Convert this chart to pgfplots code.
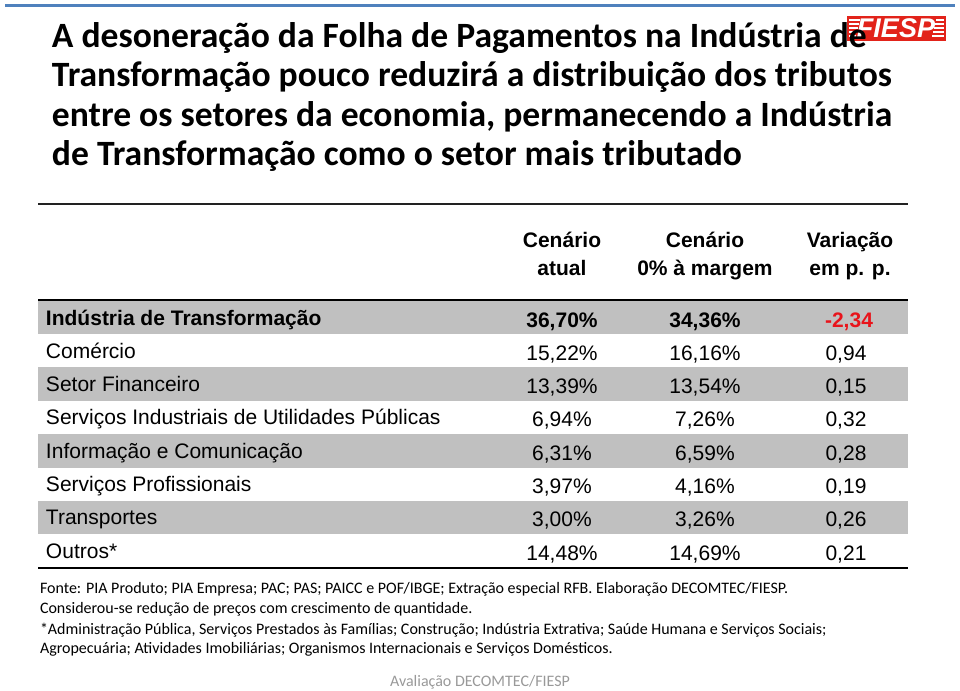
\documentclass[border=0pt]{standalone}
\usepackage{fontspec}
\setmainfont{Liberation Sans}
\newfontfamily\calibri{Carlito}
\usepackage{pgfplots}
\pgfplotsset{compat=1.18}
\newcommand{\semi}{;}
\definecolor{stripe}{HTML}{C0C0C0}
\definecolor{fiespred}{HTML}{E2231A}
\definecolor{topblue}{HTML}{4F81BD}
\definecolor{negred}{HTML}{E8141B}
\definecolor{rule}{HTML}{222222}
\pgfplotsset{
  txt/.style={draw=none, mark=none,
    nodes near coords={\pgfplotspointmeta},
    point meta=explicit symbolic,
    every node near coord/.append style={inner sep=0pt, outer sep=0pt, #1}},
}
\begin{document}
\begin{tikzpicture}
\begin{axis}[width=480pt, height=345.5pt, scale only axis,
  xmin=0, xmax=960, ymin=0, ymax=691, y dir=reverse,
  hide axis, clip=false]
% page extent
\addplot[draw=none, mark=none] coordinates {(0,0) (960,0) (960,691) (0,691)};
% top blue line
\addplot[topblue, line width=1.5pt] coordinates {(5,5) (955,5)};
% logo
\addplot[fill=fiespred, draw=none] coordinates {(847,16) (946,16) (946,41) (847,41)};
\addplot[white, line width=0.7pt, unbounded coords=jump] coordinates {
(849,20) (860,20) (849,nan) (849,24) (859,24) (849,nan) (849,28) (858,28) (849,nan)
(849,32) (857,32) (849,nan) (849,36) (856,36) (849,nan)
(936,20) (944,20) (936,nan) (935,24) (944,24) (935,nan) (934,28) (944,28) (934,nan)
(933,32) (944,32) (933,nan) (932,36) (944,36) (932,nan)};
\addplot[txt={anchor=center, text=white, font=\bfseries\itshape\fontsize{13.5}{16}\selectfont}] table[meta=t] {
x y t
896 28.5 FIESP
};
% title
\addplot[txt={anchor=base west, font=\calibri\bfseries\fontsize{17.8}{20}\selectfont}] table[meta=t] {
x y t
52 47.5 {A desoneração da Folha de Pagamentos na Indústria de}
52 86.8 {Transformação pouco reduzirá a distribuição dos tributos}
52 126.1 {entre os setores da economia, permanecendo a Indústria}
52 165.4 {de Transformação como o setor mais tributado}
};
% stripes
\addplot[fill=stripe, draw=none] coordinates {(38,300) (908,300) (908,334) (38,334)};
\addplot[fill=stripe, draw=none] coordinates {(38,367) (908,367) (908,401) (38,401)};
\addplot[fill=stripe, draw=none] coordinates {(38,434) (908,434) (908,468) (38,468)};
\addplot[fill=stripe, draw=none] coordinates {(38,501) (908,501) (908,534) (38,534)};
% rules
\addplot[rule, line width=1pt] coordinates {(38,204) (908,204)};
\addplot[black, line width=1pt] coordinates {(38,300) (908,300)};
\addplot[black, line width=1pt] coordinates {(38,568) (908,568)};
% header
\addplot[txt={anchor=base, font=\bfseries\fontsize{10.5}{12}\selectfont}] table[meta=t] {
x y t
562 247.5 {Cenário}
562 275.5 {atual}
705 247.5 {Cenário}
705 275.5 {0\% à margem}
850 247.5 {Variação}
850 275.5 {em p. p.}
};
% first row (bold)
\addplot[txt={anchor=base west, font=\bfseries\fontsize{10.5}{12}\selectfont}] table[meta=t] {
x y t
46 325 {Indústria de Transformação}
};
\addplot[txt={anchor=base, font=\bfseries\fontsize{10.5}{12}\selectfont}] table[meta=t] {
x y t
562 327 {36,70\%}
705 327 {34,36\%}
};
\addplot[txt={anchor=base, text=negred, font=\bfseries\fontsize{10.5}{12}\selectfont}] table[meta=t] {
x y t
849 327 {-2,34}
};
% other rows
\addplot[txt={anchor=base west, font=\fontsize{10.5}{12}\selectfont}] table[meta=t] {
x y t
46 358.3 {Comércio}
46 391.6 {Setor Financeiro}
46 424.9 {Serviços Industriais de Utilidades Públicas}
46 458.2 {Informação e Comunicação}
46 491.5 {Serviços Profissionais}
46 524.8 {Transportes}
46 558.1 {Outros*}
};
\addplot[txt={anchor=base, font=\fontsize{10.5}{12}\selectfont}] table[meta=t] {
x y t
562 360.3 {15,22\%}
705 360.3 {16,16\%}
846 360.3 {0,94}
562 393.6 {13,39\%}
705 393.6 {13,54\%}
846 393.6 {0,15}
562 426.9 {6,94\%}
705 426.9 {7,26\%}
846 426.9 {0,32}
562 460.2 {6,31\%}
705 460.2 {6,59\%}
846 460.2 {0,28}
562 493.5 {3,97\%}
705 493.5 {4,16\%}
846 493.5 {0,19}
562 526.8 {3,00\%}
705 526.8 {3,26\%}
846 526.8 {0,26}
562 560.1 {14,48\%}
705 560.1 {14,69\%}
846 560.1 {0,21}
};
% footnotes
\addplot[txt={anchor=base west, font=\calibri\fontsize{8}{10}\selectfont}] table[meta=t] {
x y t
40 593 {Fonte: PIA Produto\semi{} PIA Empresa\semi{} PAC\semi{} PAS\semi{} PAICC e POF/IBGE\semi{} Extração especial RFB. Elaboração DECOMTEC/FIESP.}
40 613.5 {Considerou-se redução de preços com crescimento de quantidade.}
40 634 {*Administração Pública, Serviços Prestados às Famílias\semi{} Construção\semi{} Indústria Extrativa\semi{} Saúde Humana e Serviços Sociais\semi}
40 653 {Agropecuária\semi{} Atividades Imobiliárias\semi{} Organismos Internacionais e Serviços Domésticos.}
};
\addplot[txt={anchor=base, text=black!40, font=\calibri\fontsize{8}{10}\selectfont}] table[meta=t] {
x y t
480 686 {Avaliação DECOMTEC/FIESP}
};
\end{axis}
\end{tikzpicture}
\end{document}
